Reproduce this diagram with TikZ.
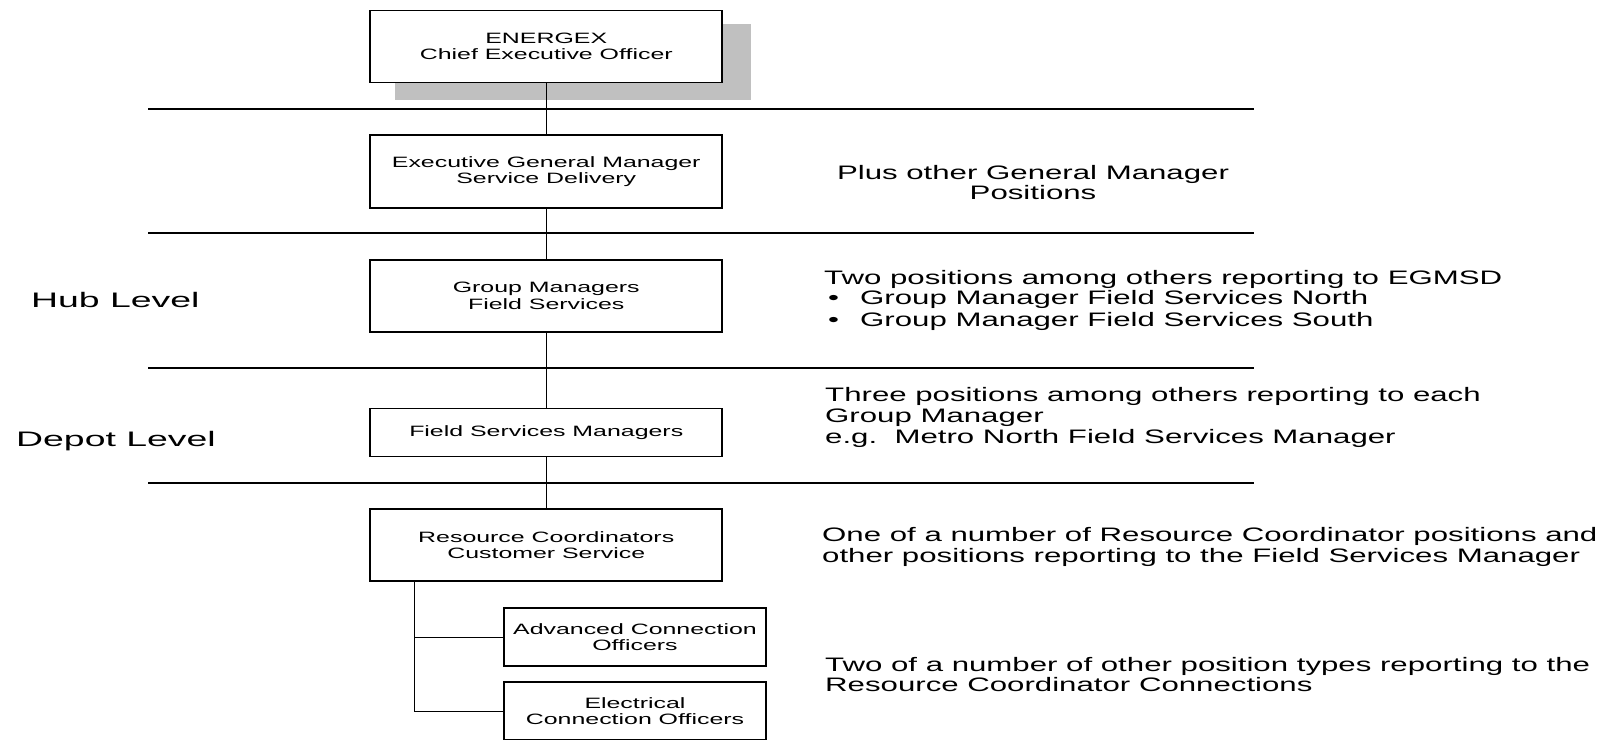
\documentclass[tikz,border=0pt]{standalone}
\usepackage{fontspec}
\setmainfont{Liberation Sans}
\newfontfamily\fA[FakeStretch=1.6]{Liberation Sans}
\newfontfamily\fB[FakeStretch=1.66]{Liberation Sans}
\newfontfamily\fC[FakeStretch=1.78]{Liberation Sans}
\definecolor{shadowgray}{HTML}{C0C0C0}
\begin{document}
\begin{tikzpicture}[x=1pt,y=-1pt,
  box/.style={draw, line width=1.9pt, minimum width=352pt, inner sep=0pt, align=center,
    fill=white, font=\fB\fontsize{15}{16.5}\selectfont},
  smallbox/.style={box, minimum width=262pt},
  conn/.style={line width=1pt},
  sep/.style={line width=1.9pt},
  rtext/.style={inner sep=0pt, anchor=base west, font=\fA\fontsize{19.5}{21}\selectfont},
  ctext/.style={rtext, anchor=base},
  lvl/.style={inner sep=0pt, anchor=base west, font=\fC\fontsize{21}{23}\selectfont}]
\useasboundingbox (0,0) rectangle (1605,739);
\clip (0,0) rectangle (1605,739);
\fill[white] (0,0) rectangle (1605,739);

% level separators
\foreach \yy in {109,233,368,483}
  \draw[sep] (148,\yy) -- (1254,\yy);

% shadow of CEO box
\fill[shadowgray] (395,24) rectangle (751,100);

% boxes
\node[box, minimum height=72pt] (ceo) at (546.25,46.5) {ENERGEX\\Chief Executive Officer};
\node[box, minimum height=73pt] (egm) at (546.25,171.5) {Executive General Manager\\Service Delivery};
\node[box, minimum height=72pt] (gm)  at (546.25,296) {Group Managers\\Field Services};
\node[box, minimum height=48pt] (fsm) at (546.25,432.5) {Field Services Managers};
\node[box, minimum height=72pt] (rc)  at (546.25,545) {Resource Coordinators\\Customer Service};
\node[smallbox, minimum height=58pt] (aco) at (635,637) {Advanced Connection\\Officers};
\node[smallbox, minimum height=58pt] (eco) at (635,711) {Electrical\\Connection Officers};

% connectors
\draw[conn] (ceo) -- (egm);
\draw[conn] (egm) -- (gm);
\draw[conn] (gm) -- (fsm);
\draw[conn] (fsm) -- (rc);
\coordinate (br) at (414,582);
\draw[conn] (br) -- (br |- eco.west) -- (eco.west);
\draw[conn] (br |- aco.west) -- (aco.west);

% level labels
\node[lvl] (hub) at (31,307.5) {Hub Level};
\node[lvl] (depot) at (16,446.6) {Depot Level};

% right-hand notes
\node[ctext] (p1) at (1033,179.5) {Plus other General Manager};
\node[ctext] (p2) at (1033,199.5) {Positions};

\node[rtext] (t1) at (824,284) {Two positions among others reporting to EGMSD};
\node[rtext] (t2) at (824,304.5) {\makebox[36pt][l]{\hspace{4pt}•}Group Manager Field Services North};
\node[rtext] (t3) at (824,326) {\makebox[36pt][l]{\hspace{4pt}•}Group Manager Field Services South};

\node[rtext] (h1) at (825,401.5) {Three positions among others reporting to each};
\node[rtext] (h2) at (825,422) {Group Manager};
\node[rtext] (h3) at (825,443.5) {e.g.\ \ Metro North Field Services Manager};

\node[rtext] (o1) at (822,541.5) {One of a number of Resource Coordinator positions and};
\node[rtext] (o2) at (822,562.5) {other positions reporting to the Field Services Manager};

\node[rtext] (w1) at (825,671.5) {Two of a number of other position types reporting to the};
\node[rtext] (w2) at (825,691) {Resource Coordinator Connections};
\end{tikzpicture}
\end{document}
